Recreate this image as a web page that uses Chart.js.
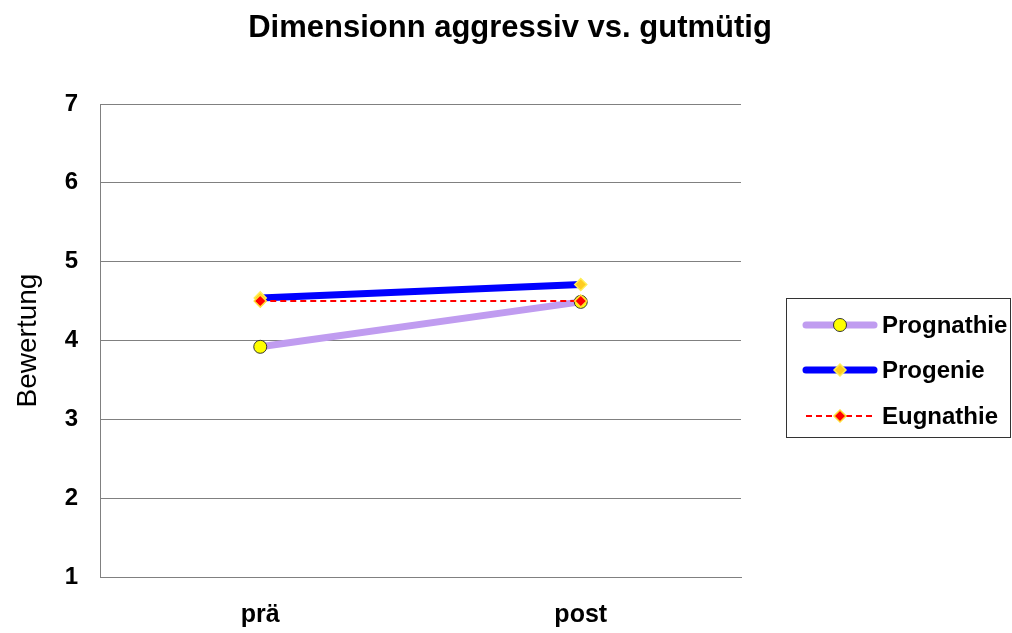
<!DOCTYPE html>
<html>
<head>
<meta charset="utf-8">
<script src="https://cdn.jsdelivr.net/npm/chart.js@4.4.1/dist/chart.umd.min.js"></script>
<style>
  html, body { margin: 0; padding: 0; background: #fff; }
  #wrap { width: 1012px; height: 633px; }
</style>
</head>
<body>
<div id="wrap"><canvas id="c" width="1012" height="633"></canvas></div>
<script>
// Rating on the aggressive vs. good-natured scale, before and after surgery
const categories = ['prä', 'post'];
const prognathie = [3.92, 4.49];
const progenie   = [4.54, 4.71];
const eugnathie  = [4.50, 4.50];
const yTicks = [1, 2, 3, 4, 5, 6, 7];
const chartTitle = 'Dimensionn aggressiv vs. gutmütig';

const FONT = '"Liberation Sans", Arial, sans-serif';

// Heading centred across the whole canvas
const pageTitle = {
  id: 'pageTitle',
  afterDraw(chart) {
    const ctx = chart.ctx;
    ctx.save();
    ctx.fillStyle = '#000';
    ctx.font = 'bold 31px ' + FONT;
    ctx.textAlign = 'center';
    ctx.textBaseline = 'middle';
    ctx.fillText(chartTitle, 510, 28);
    ctx.restore();
  }
};

// Framed legend on the right: line sample with its marker, then the name
const boxedLegend = {
  id: 'boxedLegend',
  afterDraw(chart) {
    const ctx = chart.ctx;
    const bx = 786.5, by = 298.5, bw = 224, bh = 139;
    ctx.save();
    ctx.strokeStyle = '#333';
    ctx.lineWidth = 1;
    ctx.strokeRect(bx, by, bw, bh);
    const rows = [325, 370, 416];
    chart.data.datasets.forEach((ds, k) => {
      const y = rows[k];
      ctx.save();
      ctx.strokeStyle = ds.borderColor;
      ctx.lineWidth = ds.borderWidth;
      ctx.lineCap = ds.borderDash ? 'butt' : 'round';
      ctx.setLineDash(ds.borderDash || []);
      ctx.beginPath();
      ctx.moveTo(806, y);
      ctx.lineTo(874, y);
      ctx.stroke();
      ctx.restore();
      ctx.save();
      ctx.fillStyle = ds.pointBackgroundColor;
      ctx.strokeStyle = ds.pointBorderColor;
      ctx.lineWidth = ds.pointBorderWidth;
      Chart.helpers.drawPoint(ctx, {
        pointStyle: ds.pointStyle,
        radius: ds.pointRadius,
        rotation: 0,
        borderWidth: ds.pointBorderWidth
      }, 840, y);
      ctx.restore();
      ctx.fillStyle = '#000';
      ctx.font = 'bold 24px ' + FONT;
      ctx.textBaseline = 'middle';
      ctx.textAlign = 'left';
      ctx.fillText(ds.label, 882, y + 1);
    });
    ctx.restore();
  }
};

new Chart(document.getElementById('c'), {
  type: 'line',
  data: {
    labels: categories,
    datasets: [
      {
        label: 'Prognathie',
        data: prognathie,
        borderColor: '#c09cf0',
        borderWidth: 7,
        pointStyle: 'circle',
        pointRadius: 6.5,
        pointBackgroundColor: '#ffff00',
        pointBorderColor: '#333333',
        pointBorderWidth: 1,
        order: 3
      },
      {
        label: 'Progenie',
        data: progenie,
        borderColor: '#0000ff',
        borderWidth: 7,
        pointStyle: 'rectRot',
        pointRadius: 6,
        pointBackgroundColor: '#ffcc22',
        pointBorderColor: '#ffee55',
        pointBorderWidth: 1.5,
        order: 2
      },
      {
        label: 'Eugnathie',
        data: eugnathie,
        borderColor: '#ff0000',
        borderWidth: 2,
        borderDash: [6, 4],
        pointStyle: 'rectRot',
        pointRadius: 6,
        pointBackgroundColor: '#ff0000',
        pointBorderColor: '#ffdd33',
        pointBorderWidth: 1.5,
        order: 1
      }
    ]
  },
  options: {
    responsive: false,
    animation: false,
    devicePixelRatio: 1,
    layout: { padding: { left: 0, right: 271, top: 104, bottom: 0 } },
    plugins: {
      legend: { display: false },
      tooltip: { enabled: false },
      title: { display: false }
    },
    scales: {
      x: {
        offset: true,
        grid: { display: false, drawTicks: false },
        border: { display: true, color: '#808080', width: 1 },
        ticks: {
          color: '#000',
          padding: 23,
          font: { family: FONT, size: 25, weight: 'bold' },
          maxRotation: 0
        },
        afterFit(scale) { scale.height = 56; }
      },
      y: {
        min: 1,
        max: 7,
        afterBuildTicks(scale) { scale.ticks = yTicks.map(v => ({ value: v })); },
        grid: { color: '#808080', lineWidth: 1, drawTicks: false },
        border: { display: true, color: '#808080', width: 1 },
        ticks: {
          color: '#000',
          padding: 22,
          font: { family: FONT, size: 24, weight: 'bold' }
        },
        title: {
          display: true,
          text: 'Bewertung',
          color: '#000',
          font: { family: FONT, size: 28, weight: 'normal', lineHeight: 1.2 },
          padding: { top: 11, bottom: 0 }
        },
        afterFit(scale) { scale.width = 100; }
      }
    }
  },
  plugins: [pageTitle, boxedLegend]
});
</script>
</body>
</html>
